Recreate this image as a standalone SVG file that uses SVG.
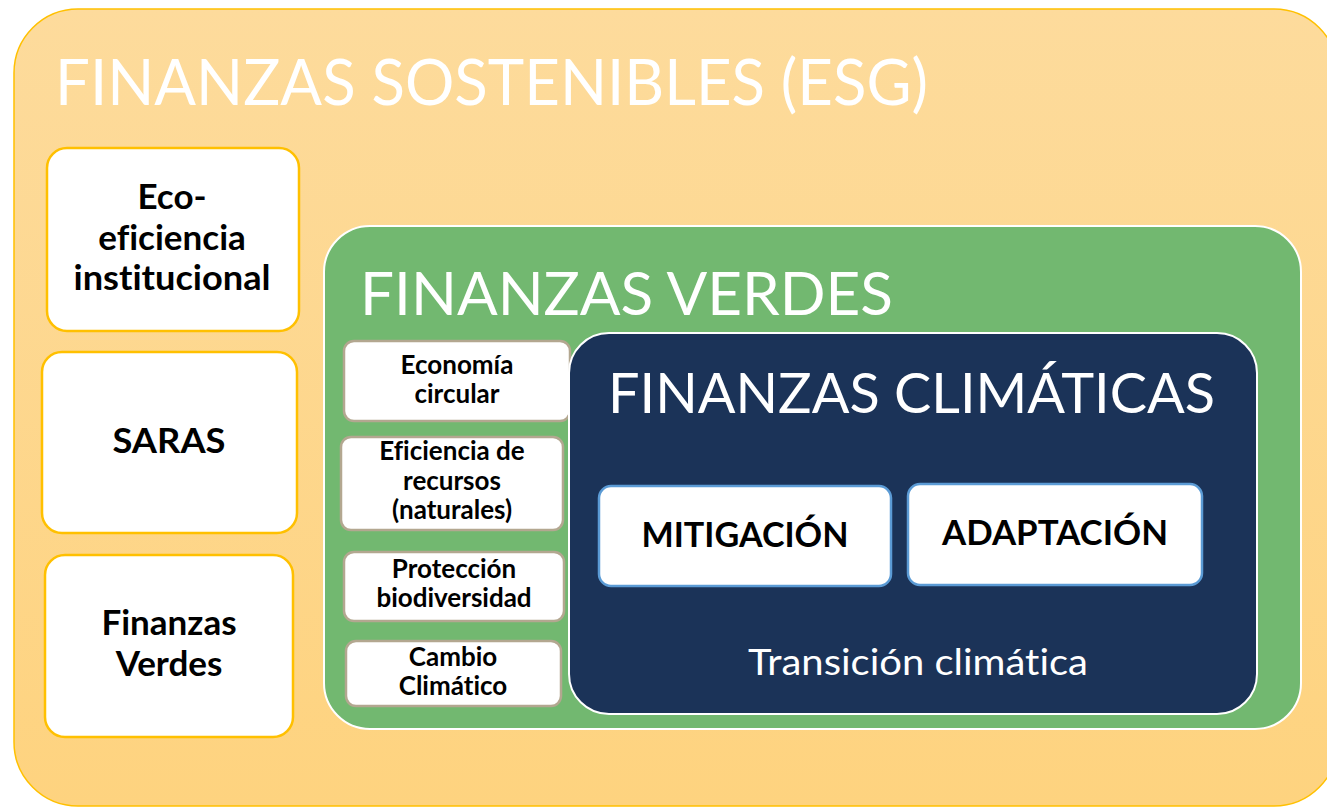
<svg xmlns="http://www.w3.org/2000/svg" width="1327" height="808" viewBox="0 0 1327 808">
<defs>
<linearGradient id="gOuter" x1="0" y1="0" x2="0" y2="1">
<stop offset="0" stop-color="#FDDB9C"/>
<stop offset="1" stop-color="#FED37F"/>
</linearGradient>
<style>
text{font-variant-ligatures:none}
.title{font-family:Lato,"Liberation Sans",sans-serif;font-weight:400;fill:#FFFFFF}
.bold{font-family:Lato,"Liberation Sans",sans-serif;font-weight:700;fill:#000000;text-anchor:middle}
.lbox{fill:#FFFFFF;stroke:#FFC000;stroke-width:2.5}
.sbox{fill:#FFFFFF;stroke:#B3A790;stroke-width:2.5}
.bbox{fill:#FFFFFF;stroke:#5B9BD5;stroke-width:2.5}
.big{font-size:35px}
.small{font-size:26px}
.mid{font-size:34.5px}
</style>
</defs>
<rect x="0" y="0" width="1327" height="808" fill="#FFFFFF"/>
<g id="esg">
<rect x="14" y="9" width="1324" height="797" rx="64" fill="url(#gOuter)" stroke="#FFC000" stroke-width="1.5"/>
<text class="title" x="55" y="105" font-size="63" textLength="873" lengthAdjust="spacingAndGlyphs">FINANZAS SOSTENIBLES (ESG)</text>
</g>
<g id="eco">
<rect class="lbox" x="47" y="148" width="252" height="183" rx="20"/>
<text class="bold big"><tspan x="172" y="209">Eco-</tspan><tspan x="172" y="250">eficiencia</tspan><tspan x="172" y="290" textLength="197" lengthAdjust="spacingAndGlyphs">institucional</tspan></text>
</g>
<g id="saras">
<rect class="lbox" x="42" y="352" width="255" height="181" rx="20"/>
<text class="bold big" x="169" y="453" textLength="113" lengthAdjust="spacingAndGlyphs">SARAS</text>
</g>
<g id="finverdes">
<rect class="lbox" x="45" y="555" width="248" height="182" rx="20"/>
<text class="bold big"><tspan x="169" y="635">Finanzas</tspan><tspan x="169" y="676">Verdes</tspan></text>
</g>
<g id="verdes">
<rect x="324" y="226" width="977" height="503" rx="46" fill="#72B870" stroke="#FFFFFF" stroke-width="2"/>
<text class="title" x="360" y="315" font-size="60" textLength="533" lengthAdjust="spacingAndGlyphs">FINANZAS VERDES</text>
</g>
<g id="economia">
<rect class="sbox" x="344" y="341" width="226" height="80" rx="10"/>
<text class="bold small"><tspan x="457" y="374">Economía</tspan><tspan x="457" y="403">circular</tspan></text>
</g>
<g id="eficiencia">
<rect class="sbox" x="341" y="437" width="222" height="93" rx="10"/>
<text class="bold small"><tspan x="452" y="460">Eficiencia de</tspan><tspan x="452" y="490">recursos</tspan><tspan x="452" y="519">(naturales)</tspan></text>
</g>
<g id="proteccion">
<rect class="sbox" x="344" y="552" width="220" height="69" rx="10"/>
<text class="bold small"><tspan x="454" y="578">Protección</tspan><tspan x="454" y="607">biodiversidad</tspan></text>
</g>
<g id="cambio">
<rect class="sbox" x="346" y="641" width="215" height="65" rx="10"/>
<text class="bold small"><tspan x="453" y="666">Cambio</tspan><tspan x="453" y="695">Climático</tspan></text>
</g>
<g id="climaticas">
<rect x="569" y="333" width="688" height="381" rx="40" fill="#1B3358" stroke="#FFFFFF" stroke-width="2"/>
<text class="title" x="608" y="413" font-size="56" textLength="607" lengthAdjust="spacingAndGlyphs">FINANZAS CLIMÁTICAS</text>
<text class="title" x="748" y="675" font-size="36" textLength="340" lengthAdjust="spacingAndGlyphs">Transición climática</text>
</g>
<g id="mitigacion">
<rect class="bbox" x="599" y="486" width="292" height="100" rx="12"/>
<text class="bold mid" x="745" y="547" textLength="207" lengthAdjust="spacingAndGlyphs">MITIGACIÓN</text>
</g>
<g id="adaptacion">
<rect class="bbox" x="908" y="484" width="294" height="101" rx="12"/>
<text class="bold mid" x="1055" y="545" textLength="226" lengthAdjust="spacingAndGlyphs">ADAPTACIÓN</text>
</g>
<g id="connectors"></g>
</svg>
